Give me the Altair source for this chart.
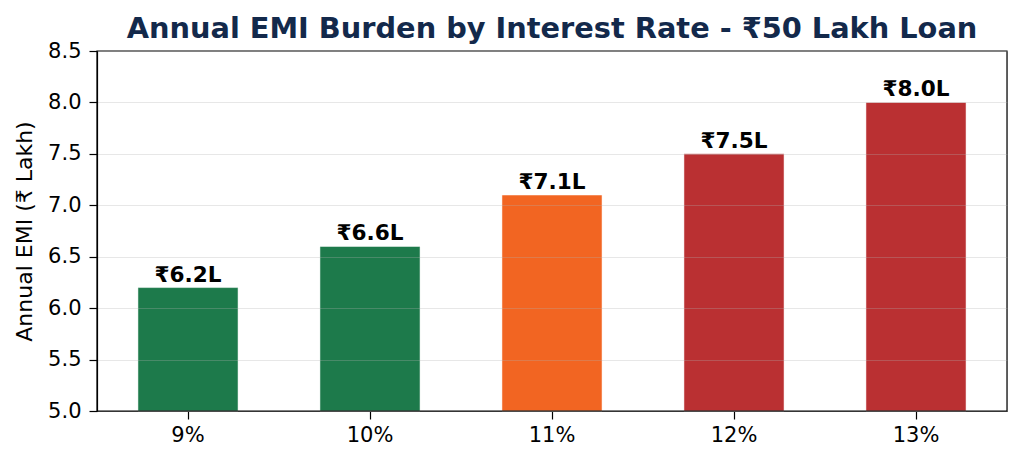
import altair as alt
import pandas as pd

rates = ["9%", "10%", "11%", "12%", "13%"]
emi = [6.2, 6.6, 7.1, 7.5, 8.0]
labels = ["₹6.2L", "₹6.6L", "₹7.1L", "₹7.5L", "₹8.0L"]
colors = ["#1d7a4b", "#1d7a4b", "#f26522", "#ba3032", "#ba3032"]

df = pd.DataFrame({"rate": rates, "emi": emi, "label": labels, "color": colors})

FONT = "DejaVu Sans"
W, H = 910, 360

x = alt.X("rate:N", sort=rates, title=None,
          scale=alt.Scale(paddingInner=0.45, paddingOuter=0.225),
          axis=alt.Axis(labelAngle=0, labelFontSize=21, labelColor="#000", labelFont=FONT,
                        tickColor="#000", tickSize=8, tickWidth=1.2, labelPadding=5,
                        domainColor="#000", domainWidth=1.2, grid=False))
y = alt.Y("emi:Q", title="Annual EMI (₹ Lakh)",
          scale=alt.Scale(domain=[5.0, 8.5], nice=False, zero=False),
          axis=alt.Axis(values=[5.0, 5.5, 6.0, 6.5, 7.0, 7.5, 8.0, 8.5], format=".1f",
                        labelFontSize=21, labelColor="#000", labelFont=FONT,
                        tickColor="#000", tickSize=8, tickWidth=1.2, labelPadding=8,
                        domainColor="#000", domainWidth=1.2, zindex=1,
                        grid=True, gridColor="#b0b0b0", gridOpacity=0.3, gridWidth=1,
                        titleFontSize=22, titleFont=FONT, titleFontWeight="normal",
                        titleColor="#000", titlePadding=11))

bars = alt.Chart(df).mark_bar(stroke="white", strokeWidth=1, strokeOpacity=0.5).encode(
    x=x, y=y, y2=alt.datum(5.0),
    color=alt.Color("color:N", scale=None),
)

text = alt.Chart(df).mark_text(dy=-6, baseline="alphabetic", fontSize=21.6, fontWeight="bold",
                               font=FONT, color="#000").encode(
    x=alt.X("rate:N", sort=rates), y="emi:Q", text="label:N")

frame = alt.Chart(pd.DataFrame({"f": [0]})).mark_rect(
    fill=None, stroke="#000", strokeWidth=1.2).encode(
    x=alt.value(0), x2=alt.value(W), y=alt.value(0), y2=alt.value(H))

chart = alt.layer(bars, text, frame).properties(
    width=W, height=H,
    title=alt.TitleParams("Annual EMI Burden by Interest Rate - ₹50 Lakh Loan",
                          font=FONT, fontSize=28.8, fontWeight="bold", color="#13294b",
                          anchor="middle", offset=-4),
    autosize=alt.AutoSizeParams(type="none"),
    padding={"left": 89, "top": 43, "right": 9, "bottom": 45},
).configure_view(stroke=None).configure(background="white")

chart.save("out.html", embed_options={"renderer": "svg", "actions": False})
